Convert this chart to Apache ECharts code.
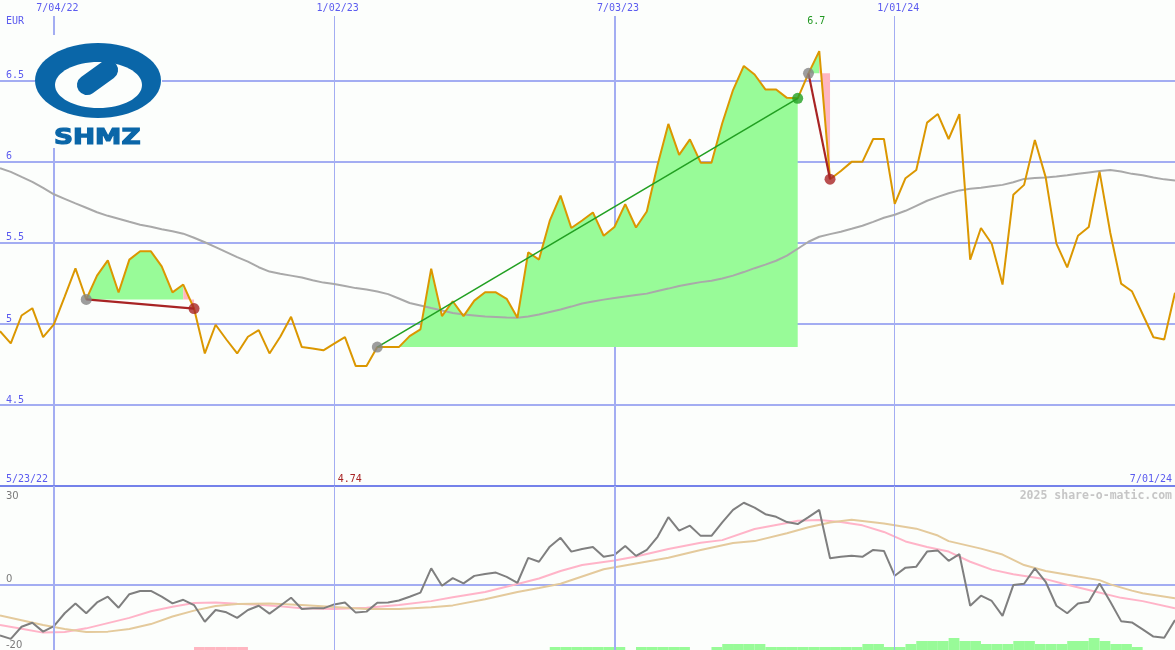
<!DOCTYPE html>
<html><head><meta charset="utf-8">
<script src="https://cdn.jsdelivr.net/npm/echarts@6/dist/echarts.min.js"></script>
<style>html,body{margin:0;padding:0;background:#fcfefc}#c{width:1175px;height:650px}</style>
</head><body><div id="c"></div>
<script>
// ---------- data ----------
const currency = 'EUR';
const rangeStartLabel = '5/23/22';
const rangeEndLabel = '7/01/24';
const watermark = '2025 share-o-matic.com';
const logoText = 'SHMZ';
const dateTickWeeks = [5, 31, 57, 83];
const dateTickLabels = ['7/04/22', '1/02/23', '7/03/23', '1/01/24'];
const dateTickBold = [true, false, true, false];
const priceTicks = [4.5, 5, 5.5, 6, 6.5];
const oscTicksLower = [-20, 0];
const oscTicksUpper = [30];
const oscGridValues = [0];

// weekly closing prices (EUR), week 0 .. 109
const prices = [
  4.955,4.880,5.052,5.097,4.918,4.997,5.169,5.343,5.151,5.298,
  5.392,5.194,5.397,5.448,5.448,5.355,5.195,5.243,5.095,4.818,
  4.995,4.904,4.818,4.921,4.962,4.818,4.921,5.044,4.857,4.849,
  4.837,4.878,4.918,4.74,4.74,4.857,4.857,4.857,4.925,4.966,
  5.341,5.048,5.140,5.048,5.144,5.195,5.195,5.155,5.038,5.442,
  5.397,5.637,5.792,5.592,5.638,5.688,5.544,5.598,5.739,5.595,
  5.694,5.981,6.234,6.043,6.139,5.995,5.995,6.238,6.443,6.592,
  6.539,6.447,6.447,6.395,6.392,6.546,6.683,5.893,5.944,6.0,
  6.0,6.141,6.141,5.741,5.899,5.95,6.242,6.295,6.141,6.295,
  5.397,5.592,5.495,5.243,5.797,5.858,6.135,5.906,5.495,5.349,
  5.544,5.598,5.94,5.561,5.249,5.202,5.06,4.918,4.904,5.192
];
// long moving average of price
const priceMA = [
  5.961,5.938,5.907,5.877,5.840,5.800,5.772,5.744,5.717,5.689,
  5.667,5.649,5.630,5.612,5.600,5.584,5.572,5.557,5.532,5.504,
  5.474,5.443,5.412,5.384,5.350,5.323,5.310,5.298,5.286,5.270,
  5.255,5.246,5.234,5.221,5.212,5.200,5.184,5.157,5.129,5.114,
  5.098,5.083,5.067,5.058,5.052,5.046,5.043,5.040,5.038,5.046,
  5.058,5.074,5.089,5.107,5.126,5.138,5.150,5.160,5.169,5.178,
  5.187,5.203,5.218,5.234,5.246,5.258,5.267,5.280,5.298,5.320,
  5.344,5.366,5.390,5.421,5.464,5.507,5.538,5.554,5.569,5.587,
  5.606,5.630,5.655,5.674,5.698,5.729,5.760,5.784,5.806,5.824,
  5.834,5.840,5.849,5.858,5.874,5.895,5.901,5.904,5.910,5.917,
  5.926,5.935,5.944,5.950,5.941,5.926,5.917,5.904,5.892,5.885
];
// oscillator (lower panel)
const oscValues = [
  -15.6,-16.6,-12.9,-11.7,-14.4,-12.7,-8.8,-5.8,-8.8,-5.5,
  -3.75,-7.1,-3.0,-2.0,-2.0,-3.75,-5.8,-4.7,-6.3,-11.4,
  -7.8,-8.5,-10.2,-7.8,-6.5,-8.9,-6.5,-4.05,-7.5,-7.3,
  -7.3,-6.1,-5.5,-8.6,-8.3,-5.6,-5.5,-4.9,-3.75,-2.5,
  4.9,-0.4,1.9,0.3,2.6,3.2,3.6,2.3,0.5,8.1,
  6.9,11.5,14.2,10.0,10.8,11.4,8.4,9.0,11.7,8.7,
  10.5,14.5,20.5,16.4,17.9,14.8,14.8,18.9,22.7,24.9,
  23.4,21.4,20.6,19.0,18.4,20.5,22.7,8.0,8.4,8.75,
  8.4,10.5,10.2,2.65,5.1,5.4,10.0,10.3,7.2,9.2,
  -6.5,-3.45,-5.05,-9.6,-0.2,0.2,4.9,0.8,-6.5,-8.8,
  -5.8,-5.3,0.3,-5.3,-11.2,-11.6,-13.7,-15.9,-16.25,-10.85
];
// fast signal line [week, value]
const oscFast = [
  [0,-12.4],[2,-13.5],[4,-14.7],[6,-14.5],[8,-13.4],[10,-11.8],[12,-10.2],[14,-8.2],
  [16,-6.8],[18,-5.7],[20,-5.5],[22,-5.9],[24,-6.2],[26,-6.7],[28,-7.3],[31,-7.5],
  [34,-7.1],[37,-6.3],[40,-5.1],[42,-3.9],[45,-2.3],[48,0.1],[50,1.8],[52,4.1],
  [54,5.9],[57,7.3],[59,8.5],[62,10.8],[65,12.7],[67,13.5],[70,16.9],[73,18.7],
  [74,19.4],[76,19.6],[78,19.0],[80,18.0],[82,16.0],[84,13.1],[86,11.4],[88,10.0],
  [90,6.9],[92,4.5],[94,3.1],[97,1.6],[99,-0.1],[101,-1.7],[104,-4.1],[106,-5.1],[109,-7.3]
];
// slow signal line [week, value]
const oscSlow = [
  [0,-9.5],[2,-10.9],[4,-12.4],[6,-13.6],[8,-14.5],[10,-14.4],[12,-13.6],[14,-12.1],
  [16,-9.8],[18,-8.0],[20,-6.6],[22,-5.95],[25,-5.8],[28,-6.3],[31,-6.9],[34,-7.5],
  [37,-7.5],[40,-7.0],[42,-6.4],[45,-4.5],[48,-2.3],[50,-1.1],[52,0.2],[54,2.4],
  [56,4.6],[59,6.4],[62,8.1],[65,10.5],[68,12.6],[70,13.2],[73,15.6],[75,17.4],
  [77,18.9],[79,19.7],[82,18.6],[85,17.0],[87,14.9],[88,13.2],[91,10.9],[93,9.1],
  [95,5.9],[97,4.1],[100,2.4],[102,1.3],[103,0.0],[105,-1.9],[106,-2.7],[109,-4.2]
];
// trades: buy week / sell week
const tradeBuyWeeks = [8, 35, 75];
const tradeSellWeeks = [18, 74, 77];
// signal strength bars [week, level]
const signalGreen = [
  [51,1],[52,1],[53,1],[54,1],[55,1],[56,1],[57,1],[59,1],[60,1],[61,1],[62,1],[63,1],
  [66,1],[67,2],[68,2],[69,2],[70,2],[71,1],[72,1],[73,1],[74,1],[75,1],[76,1],[77,1],
  [78,1],[79,1],[80,2],[81,2],[82,1],[83,1],[84,2],[85,3],[86,3],[87,3],[88,4],[89,3],
  [90,3],[91,2],[92,2],[93,2],[94,3],[95,3],[96,2],[97,2],[98,2],[99,3],[100,3],[101,4],
  [102,3],[103,2],[104,2],[105,1]
];
const signalPink = [[18,1],[19,1],[20,1],[21,1],[22,1]];

// ---------- styles ----------
const BG = '#fcfefc';
const GRID = '#a3adf2';
const SEP = '#7482ea';
const BLUE = '#5b5bef';
const MONO = '"DejaVu Sans Mono", monospace';
const GREEN_FILL = '#98fb98';
const PINK_FILL = '#ffb6c1';
const LOGO = '#0a66a8';

const chart = echarts.init(document.getElementById('c'), null, {renderer: 'canvas'});
const lastWeek = prices.length - 1;

function topXAxes() {
  const out = [];
  [true, false].forEach(bold => {
    const vals = dateTickWeeks.filter((w, i) => dateTickBold[i] === bold);
    out.push({
      gridIndex: 0, type: 'value', min: 0, max: lastWeek, position: 'top', z: 0,
      axisLine: {show: false},
      axisTick: {show: false, customValues: vals},
      axisLabel: {show: true, customValues: vals, margin: 3, color: BLUE, fontSize: 10,
        fontFamily: MONO, padding: [0, 0, 0, 7],
        formatter: v => dateTickLabels[dateTickWeeks.indexOf(v)]},
      splitLine: {show: true, lineStyle: {color: GRID, width: bold ? 2 : 1}}
    });
  });
  return out;
}

function areaSeries(a, b, origin, color) {
  return {
    type: 'line', xAxisIndex: 0, yAxisIndex: 0, silent: true, z: 2,
    data: prices.slice(a, b + 1).map((v, k) => [a + k, v]),
    symbol: 'none', lineStyle: {opacity: 0, width: 0},
    areaStyle: {color: color, opacity: 1, origin: origin}
  };
}

const series = [];
tradeBuyWeeks.forEach((b, t) => {
  const s = tradeSellWeeks[t];
  const win = prices[s] > prices[b];
  series.push(areaSeries(b, win ? s : s - 1, prices[b], GREEN_FILL));
  if (!win) series.push(areaSeries(s - 1, s, prices[b], PINK_FILL));
});

series.push({
  type: 'line', xAxisIndex: 0, yAxisIndex: 0, z: 3, silent: true, symbol: 'none',
  data: priceMA.map((v, i) => [i, v]), lineStyle: {color: '#a9a9a9', width: 2}
});
series.push({
  type: 'line', xAxisIndex: 0, yAxisIndex: 0, z: 4, silent: true, symbol: 'none',
  data: prices.map((v, i) => [i, v]), lineStyle: {color: '#db9700', width: 2},
  markPoint: {
    symbol: 'circle', symbolSize: 0, silent: true,
    label: {show: true, position: 'inside', fontSize: 10, fontFamily: MONO},
    data: [
      {type: 'max', valueDim: 'y', label: {color: '#229922', offset: [-3, -30],
        formatter: p => Number(p.value).toFixed(1)}},
      {type: 'min', valueDim: 'y', label: {color: '#a82424', offset: [-6, 113],
        formatter: p => Number(p.value).toFixed(2)}}
    ]
  }
});
tradeBuyWeeks.forEach((b, t) => {
  const s = tradeSellWeeks[t];
  const win = prices[s] > prices[b];
  const col = win ? '#22a022' : '#a82424';
  series.push({
    type: 'line', xAxisIndex: 0, yAxisIndex: 0, z: 5, silent: true, symbol: 'none',
    data: [[b, prices[b]], [s, prices[s]]], lineStyle: {color: col, width: win ? 1.6 : 2.2}
  });
  series.push({
    type: 'scatter', xAxisIndex: 0, yAxisIndex: 0, z: 6, silent: true, symbolSize: 11,
    data: [[b, prices[b]]], itemStyle: {color: '#858585'}
  });
  series.push({
    type: 'scatter', xAxisIndex: 0, yAxisIndex: 0, z: 6, silent: true, symbolSize: 11,
    data: [[s, prices[s]]], itemStyle: {color: col}
  });
});

// lower panel: vertical date grid lines (helper series, invisible line)
series.push({
  type: 'line', xAxisIndex: 2, yAxisIndex: 2, z: 1, silent: true, symbol: 'none',
  data: oscValues.map((v, i) => [i, v]), lineStyle: {opacity: 0},
  markLine: {
    silent: true, symbol: 'none', label: {show: false},
    data: dateTickWeeks.map((w, i) => ({xAxis: w,
      lineStyle: {color: GRID, type: 'solid', width: dateTickBold[i] ? 2 : 1}}))
  }
});
function barItem(params, api) {
  const w = api.value(0), v = api.value(1);
  const p0 = api.coord([w, v]);
  const p1 = api.coord([w + 1, 0]);
  return {type: 'rect', shape: {x: p0[0], y: p0[1], width: p1[0] - p0[0], height: p1[1] - p0[1]},
    style: {fill: api.visual('color')}};
}
series.push({type: 'custom', xAxisIndex: 2, yAxisIndex: 4, z: 1, silent: true,
  renderItem: barItem, data: signalGreen, itemStyle: {color: GREEN_FILL}});
series.push({type: 'custom', xAxisIndex: 2, yAxisIndex: 4, z: 1, silent: true,
  renderItem: barItem, data: signalPink, itemStyle: {color: PINK_FILL}});
series.push({type: 'line', xAxisIndex: 2, yAxisIndex: 2, z: 2, silent: true, symbol: 'none',
  data: oscFast, lineStyle: {color: '#ffb4c8', width: 2}});
series.push({type: 'line', xAxisIndex: 2, yAxisIndex: 2, z: 3, silent: true, symbol: 'none',
  data: oscSlow, lineStyle: {color: '#e4ca9c', width: 2}});
series.push({type: 'line', xAxisIndex: 2, yAxisIndex: 2, z: 4, silent: true, symbol: 'none',
  data: oscValues.map((v, i) => [i, v]), lineStyle: {color: '#7f7f7f', width: 2}});

const txt = (x, y, text, color, align, font) => ({
  type: 'text', x: x, y: y, z: 120, silent: true,
  style: {text: text, fill: color, align: align, verticalAlign: 'middle', font: font || ('10px ' + MONO)}
});

const lowerLabel = {inside: true, margin: 6, color: '#7a7a7a', fontSize: 10,
  fontFamily: '"DejaVu Sans", sans-serif'};

const option = {
  animation: false,
  backgroundColor: BG,
  grid: [
    {left: 0, right: 0, top: 16, height: 470},
    {left: 0, right: 0, top: 486, height: 164}
  ],
  xAxis: [
    ...topXAxes(),
    {gridIndex: 1, type: 'value', min: 0, max: lastWeek, position: 'top', z: 0,
      axisLine: {show: true, onZero: false, lineStyle: {color: SEP, width: 2}},
      axisTick: {show: false}, axisLabel: {show: false}, splitLine: {show: false}}
  ],
  yAxis: [
    {gridIndex: 0, type: 'value', min: 4, max: 6.9, position: 'left', z: 0,
      axisLine: {show: false}, axisTick: {show: false, customValues: priceTicks},
      axisLabel: {inside: true, customValues: priceTicks, verticalAlign: 'bottom', margin: 6,
        color: BLUE, fontSize: 10, fontFamily: MONO, formatter: v => String(v)},
      splitLine: {show: true, lineStyle: {color: GRID, width: 2}}},
    {gridIndex: 0, type: 'value', min: 4, max: 6.9, show: false},
    {gridIndex: 1, type: 'value', min: -20, max: 30, position: 'left', z: 0,
      axisLine: {show: false}, axisTick: {show: false, customValues: oscGridValues},
      axisLabel: Object.assign({customValues: oscTicksLower, showMinLabel: true, verticalAlign: 'bottom'}, lowerLabel),
      splitLine: {show: true, lineStyle: {color: GRID, width: 2}}},
    {gridIndex: 1, type: 'value', min: -20, max: 30, position: 'left', offset: 0,
      axisLine: {show: false}, axisTick: {show: false, customValues: oscTicksUpper},
      axisLabel: Object.assign({customValues: oscTicksUpper, showMaxLabel: true, verticalAlign: 'top',
        padding: [5, 0, 0, 0]}, lowerLabel),
      splitLine: {show: false}},
    {gridIndex: 1, type: 'value', min: 0, max: 164 / 3, show: false}
  ],
  series: series,
  graphic: [
    {type: 'rect', z: 100, silent: true, shape: {x: 35, y: 35, width: 127, height: 113}, style: {fill: BG}},
    {type: 'ellipse', z: 101, silent: true, shape: {cx: 98, cy: 80.5, rx: 63, ry: 37.5}, style: {fill: LOGO}},
    {type: 'ellipse', z: 102, silent: true, shape: {cx: 98.5, cy: 85, rx: 43.5, ry: 23}, style: {fill: BG}},
    {type: 'rect', z: 103, silent: true, x: 97.5, y: 77.5, rotation: 0.62,
      shape: {x: -23, y: -10, width: 46, height: 20, r: 10}, style: {fill: LOGO}},
    {type: 'text', z: 103, silent: true, x: 54, y: 138, scaleX: 1.2,
      style: {text: logoText, fill: LOGO, stroke: LOGO, lineWidth: 1.2, verticalAlign: 'middle',
        font: 'bold 22px "DejaVu Sans", sans-serif'}},
    txt(6, 21, currency, BLUE, 'left'),
    txt(6, 479, rangeStartLabel, BLUE, 'left'),
    txt(1172, 479, rangeEndLabel, BLUE, 'right'),
    txt(1172, 496, watermark, '#c6c6c6', 'right', 'bold 11.5px ' + MONO)
  ]
};
chart.setOption(option);
</script>
</body></html>
